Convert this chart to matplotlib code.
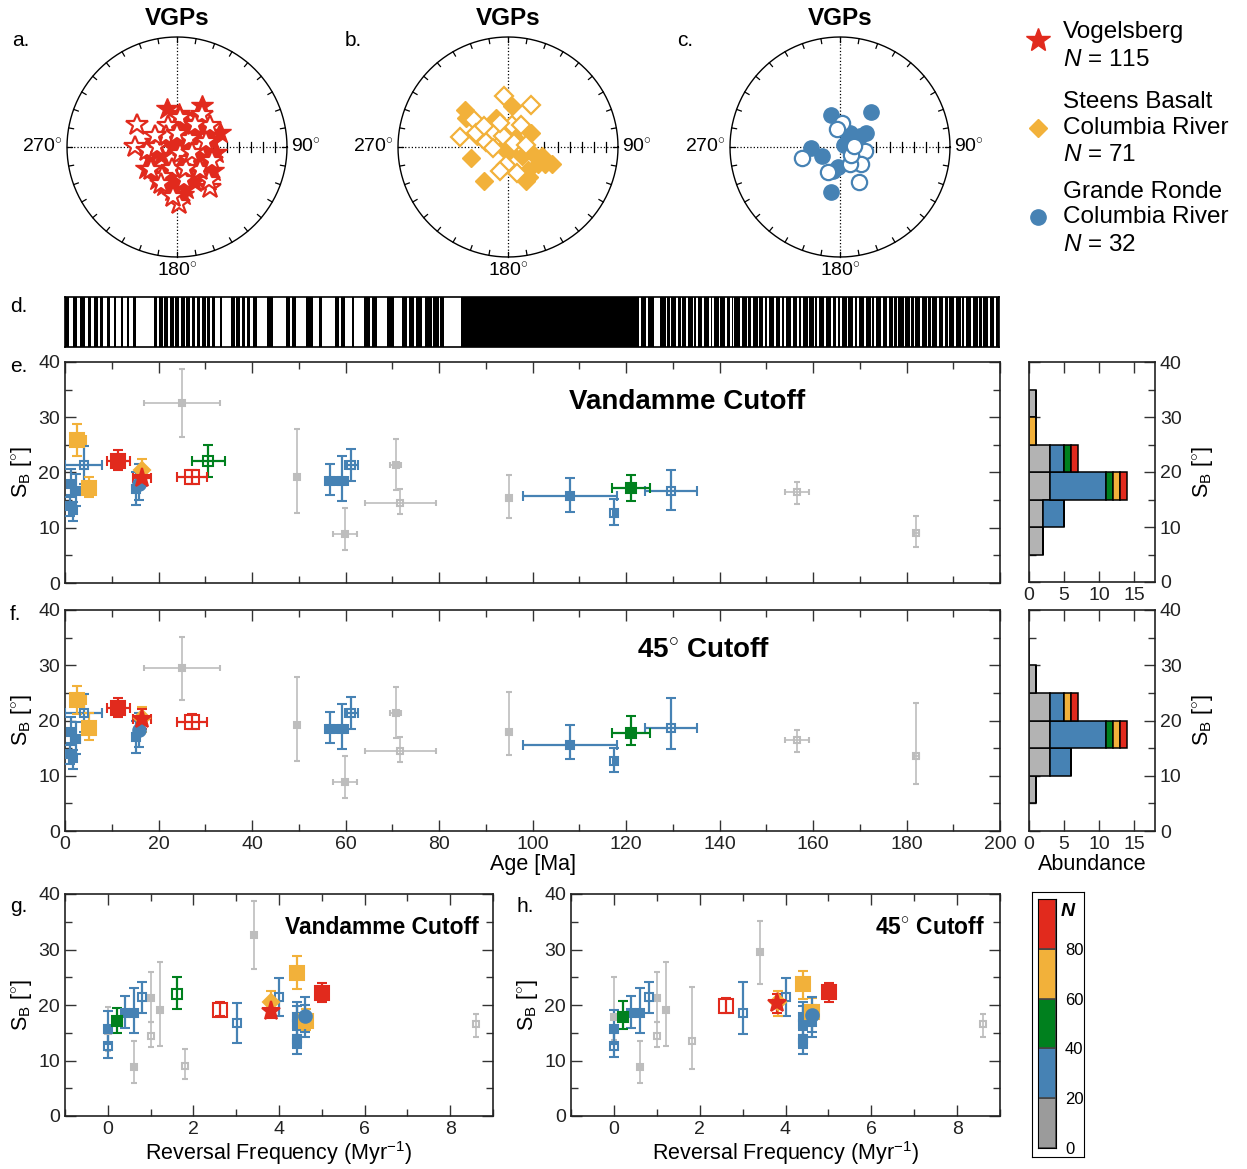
import matplotlib.pyplot as plt
import numpy as np

plt.rcParams['font.family'] = ['Liberation Sans', 'DejaVu Sans']
plt.rcParams['mathtext.fontset'] = 'custom'
plt.rcParams['mathtext.rm'] = 'Liberation Sans'
plt.rcParams['mathtext.it'] = 'Liberation Sans:italic'
plt.rcParams['mathtext.bf'] = 'Liberation Sans:bold'

W, H = 1247, 1169
RED = '#E12A1D'
ORANGE = '#F2B13A'
GREEN = '#00801E'
BLUE = '#4682B4'
GRAY = '#BDBDBD'
HGRAY = '#B3B3B3'
CGRAY = '#9B9B9B'
GROUP_COL = {'gray': GRAY, 'blue': BLUE, 'green': GREEN, 'orange': ORANGE, 'red': RED}

# ---------------- VGP stereonets (projected x, y on unit circle) ----------------
vog_fill_x = [-0.09, 0.23, 0.39, 0.32, 0.30, 0.33, 0.28, -0.02, 0.08, 0.15, 0.25, -0.12, -0.20, 0.0,
              0.10, 0.20, -0.25, -0.15, 0.05, 0.18, -0.28, -0.10, 0.10, 0.25, -0.18, 0.0, 0.15, -0.05,
              0.05, -0.02, 0.12, -0.05, 0.22, -0.22, 0.30, 0.35, -0.12, 0.08, 0.02, 0.18]
vog_fill_y = [0.35, 0.37, 0.13, 0.05, -0.10, -0.22, -0.30, 0.18, 0.22, 0.15, 0.18, 0.10, 0.05, 0.05,
              0.0, 0.05, -0.10, -0.08, -0.10, -0.12, -0.20, -0.20, -0.22, -0.18, -0.30, -0.32, -0.32, -0.40,
              -0.44, -0.28, 0.10, 0.0, -0.05, -0.02, 0.12, -0.05, -0.35, -0.38, 0.30, 0.28]
vog_open_x = [-0.36, -0.38, 0.02, 0.30, 0.03, 0.23, 0.30, -0.27, -0.18, -0.08, 0.11, 0.21, 0.03, -0.05,
              0.12, -0.14, -0.24, -0.15, 0.06, 0.29, 0.21, 0.32, -0.10, 0.16, 0.08, -0.20, 0.26, 0.0,
              -0.04, 0.14]
vog_open_y = [0.20, 0.0, -0.52, -0.37, 0.26, 0.29, 0.19, -0.04, 0.0, 0.19, 0.07, -0.01, -0.06, -0.20,
              -0.12, -0.27, -0.21, -0.34, -0.30, -0.31, -0.21, -0.13, 0.10, 0.20, -0.20, 0.10, 0.05, 0.12,
              -0.45, -0.05]

steens_fill_x = [-0.39, -0.38, -0.34, -0.22, 0.04, -0.11, -0.17, 0.21, 0.31, 0.40, 0.34, 0.16, 0.18,
                 0.13, 0.01, -0.05, 0.22, 0.27, 0.19, 0.07, -0.28]
steens_fill_y = [0.34, 0.26, -0.10, -0.31, 0.37, 0.26, 0.19, 0.13, -0.08, -0.15, -0.15, -0.31, -0.21,
                 -0.08, -0.04, -0.01, -0.05, -0.15, -0.27, 0.07, 0.10]
steens_open_x = [-0.04, 0.21, -0.44, -0.31, -0.29, -0.20, -0.13, -0.05, 0.04, 0.12, 0.05, 0.16, -0.14,
                 -0.02, -0.07, 0.08, -0.22, -0.07]
steens_open_y = [0.46, 0.38, 0.09, 0.25, 0.13, 0.05, 0.14, 0.10, 0.20, 0.20, 0.04, 0.02, -0.01,
                 -0.16, -0.22, -0.24, 0.19, 0.22]

gr_fill_x = [-0.08, 0.28, -0.26, -0.16, -0.08, -0.02, -0.06, 0.09, 0.06, 0.12, 0.18, 0.24, 0.16, 0.04, 0.13]
gr_fill_y = [0.29, 0.32, -0.01, -0.08, -0.41, -0.18, -0.22, 0.13, 0.05, 0.10, 0.10, 0.13, 0.07, 0.02, 0.05]
gr_open_x = [0.02, -0.03, -0.35, -0.11, 0.17, 0.12, 0.23, 0.19, 0.09, 0.10, 0.13]
gr_open_y = [0.22, 0.16, -0.10, -0.23, -0.32, -0.02, -0.04, -0.15, -0.15, -0.07, 0.01]

# ---------------- polarity timescale: reversed (white) intervals, Ma ----------------
rev_start = [0.8, 2.6, 4.2, 5.5, 7.0, 8.1, 9.7, 11.0, 12.5, 13.8, 15.3,
             19.8, 20.9, 22.0, 23.3, 24.4, 25.6, 26.7, 27.9, 29.0, 30.1, 31.1,
             32.1, 33.6, 36.3, 37.5, 38.6, 39.7, 41.1, 44.6, 48.2, 49.5, 53.0, 55.1, 58.6,
             59.9, 61.9, 65.3, 66.9, 70.4, 73.3, 74.8, 76.5, 78.5, 80.0, 81.1,
             123.0, 124.5, 126.1, 128.6, 129.5, 130.9, 131.8, 133.0, 134.4, 135.1, 136.5, 137.9,
             138.6, 140.0, 141.3, 142.4, 143.0, 144.6, 146.0, 146.9, 148.3, 149.5, 150.4, 151.8,
             153.2, 154.0, 155.5, 156.8, 157.6, 159.0, 160.3, 161.1, 162.6, 164.0, 165.2, 166.0,
             167.4, 168.8, 169.7, 171.1, 172.5, 173.3, 174.8, 176.0, 177.2, 178.1, 179.6, 180.9,
             181.7, 183.1, 184.5, 185.4, 186.8, 188.0, 189.0, 190.4, 191.8, 192.6, 194.0, 195.4,
             196.3, 197.7, 199.0]
rev_end = [1.8, 3.3, 4.9, 6.2, 7.6, 9.0, 10.4, 11.9, 13.2, 14.6, 19.1,
           20.2, 21.3, 22.5, 23.6, 24.9, 25.9, 27.2, 28.2, 29.4, 30.5, 31.4,
           33.2, 35.5, 36.7, 37.9, 39.0, 40.2, 43.2, 47.4, 48.6, 51.6, 54.4, 57.8, 59.1,
           61.5, 64.1, 65.8, 69.0, 72.2, 73.7, 75.2, 77.0, 78.8, 80.3, 84.7,
           123.3, 124.8, 127.5, 128.95, 129.85, 131.25, 132.15, 133.35, 134.75, 135.45, 136.85, 138.25,
           138.95, 140.35, 141.65, 142.75, 143.35, 144.95, 146.35, 147.25, 148.65, 149.85, 150.75, 152.15,
           153.55, 154.35, 155.85, 157.15, 157.95, 159.35, 160.65, 161.45, 162.95, 164.35, 165.55, 166.35,
           167.75, 169.15, 170.05, 171.45, 172.85, 173.65, 175.15, 176.35, 177.55, 178.45, 179.95, 181.25,
           182.05, 183.45, 184.85, 185.75, 187.15, 188.35, 189.35, 190.75, 192.15, 192.95, 194.35, 195.75,
           196.65, 198.05, 199.35]

# ---------------- compiled studies ----------------
study_group = ['orange', 'orange', 'red', 'red', 'green', 'green', 'gray', 'gray', 'gray', 'gray',
               'gray', 'gray', 'gray', 'gray', 'blue', 'blue', 'blue', 'blue', 'blue', 'blue', 'blue',
               'blue', 'blue', 'blue', 'blue', 'blue', 'blue', 'orange', 'red']
study_marker = ['s'] * 26 + ['o', 'D', '*']
study_filled = [1, 1, 1, 0, 0, 1, 1, 1, 1, 1, 0, 1, 0, 0, 1, 0, 0, 1, 1, 0, 0, 1, 1, 1, 1, 1, 1, 1, 1]
age = [2.6, 5.2, 11.4, 27.1, 30.6, 121.1, 25.0, 49.6, 59.8, 70.7, 71.6, 94.9, 156.6, 182.1, 108.0,
       117.5, 129.6, 56.6, 59.3, 61.2, 4.1, 1.2, 2.4, 1.1, 1.7, 15.2, 15.8, 16.5, 16.4]
age_em = [1.4, 1.2, 2.5, 3.2, 3.5, 4.1, 8.2, 0.3, 2.5, 1.2, 7.5, 0.6, 2.5, 0.5, 10.0, 0.3, 5.5, 1.0,
          1.3, 1.4, 4.0, 0.5, 0.8, 0.4, 0.6, 0.3, 0.4, 0.3, 1.8]
age_ep = [1.9, 1.2, 2.4, 3.3, 3.7, 4.1, 8.2, 0.3, 2.6, 1.2, 7.7, 0.6, 2.5, 0.5, 10.0, 0.3, 5.6, 1.0,
          1.3, 1.4, 3.9, 0.5, 0.9, 0.5, 0.6, 0.3, 0.4, 0.3, 1.9]
rev_freq = [4.41, 4.62, 5.01, 2.61, 1.61, 0.21, 3.41, 1.21, 0.61, 1.01, 1.01, 0.0, 8.61, 1.81, 0.0,
            0.0, 3.01, 0.41, 0.61, 0.81, 4.01, 4.41, 4.41, 4.41, 4.41, 4.61, 4.61, 3.82, 3.81]
sb_vd = [25.8, 17.2, 22.1, 19.1, 22.0, 17.2, 32.6, 19.1, 8.9, 21.3, 14.5, 15.3, 16.5, 9.0, 15.7, 12.7,
         16.7, 18.5, 18.5, 21.4, 21.4, 17.9, 16.6, 13.9, 13.2, 17.0, 18.0, 20.5, 19.0]
sb_vd_lo = [22.9, 15.5, 20.5, 18.0, 19.2, 14.9, 26.5, 12.7, 6.0, 16.9, 12.4, 11.8, 14.3, 6.6, 12.9,
            10.5, 13.2, 15.9, 14.9, 18.5, 18.0, 15.9, 13.9, 12.2, 11.2, 14.2, 15.1, 18.0, 17.6]
sb_vd_hi = [28.8, 19.2, 24.0, 20.5, 25.0, 19.5, 38.7, 27.8, 13.5, 26.0, 17.0, 19.6, 18.3, 12.1, 19.0,
            15.2, 20.4, 21.6, 23.0, 24.2, 24.8, 20.6, 19.8, 15.5, 14.6, 20.0, 21.5, 22.5, 20.6]
sb_45 = [23.7, 18.7, 22.3, 19.8, np.nan, 17.8, 29.5, 19.1, 8.9, 21.3, 14.5, 17.9, 16.5, 13.5, 15.6,
         12.6, 18.6, 18.5, 18.5, 21.4, 21.4, 17.9, 16.6, 13.9, 13.2, 17.0, 18.2, 20.5, 20.3]
sb_45_lo = [21.1, 16.5, 20.6, 18.5, np.nan, 15.6, 23.8, 12.7, 6.0, 16.9, 12.4, 13.7, 14.3, 8.5, 13.0,
            10.6, 14.8, 15.9, 14.9, 18.5, 18.0, 15.9, 13.9, 12.2, 11.2, 14.2, 15.2, 18.0, 18.5]
sb_45_hi = [26.2, 21.3, 24.0, 21.2, np.nan, 20.8, 35.1, 27.8, 13.5, 26.0, 17.0, 25.1, 18.3, 23.2, 19.1,
            15.1, 24.1, 21.6, 23.0, 24.2, 24.8, 20.6, 19.8, 15.5, 14.6, 20.0, 21.4, 22.5, 22.0]

# ---------------- histogram counts (bins of 5 deg starting at these edges) ----------------
hist_bins = [5, 10, 15, 20, 25, 30]
hist_vd = {'gray': [2, 2, 3, 3, 0, 1], 'blue': [0, 3, 8, 2, 0, 0], 'green': [0, 0, 1, 1, 0, 0],
           'orange': [0, 0, 1, 0, 1, 0], 'red': [0, 0, 1, 1, 0, 0]}
hist_45 = {'gray': [1, 3, 3, 3, 1, 0], 'blue': [0, 3, 8, 2, 0, 0], 'green': [0, 0, 1, 0, 0, 0],
           'orange': [0, 0, 1, 1, 0, 0], 'red': [0, 0, 1, 1, 0, 0]}

cbar_bounds = [0, 20, 40, 60, 80, 100]
cbar_colors = [CGRAY, BLUE, GREEN, ORANGE, RED]

fig = plt.figure(figsize=(W / 100, H / 100), dpi=100)


def px_axes(x0, y0, x1, y1):
    return fig.add_axes([x0 / W, 1 - y1 / H, (x1 - x0) / W, (y1 - y0) / H])


def ftext(x, y, s, **kw):
    fig.text(x / W, 1 - y / H, s, **kw)


def stereonet(x0, fill_x, fill_y, open_x, open_y, mk, ms, col):
    ax = px_axes(x0, 37, x0 + 220, 257)
    ax.set_xlim(-1, 1)
    ax.set_ylim(-1, 1)
    ax.set_aspect('equal')
    ax.axis('off')
    t = np.linspace(0, 2 * np.pi, 361)
    ax.plot(np.cos(t), np.sin(t), color='black', lw=1.0, clip_on=False)
    for a in np.deg2rad(np.arange(0, 360, 10)):
        ax.plot([np.cos(a), 0.955 * np.cos(a)], [np.sin(a), 0.955 * np.sin(a)],
                color='black', lw=0.9, clip_on=False)
    ax.plot([-1, 1], [0, 0], ':', color='black', lw=0.9)
    ax.plot([0, 0], [-1, 1], ':', color='black', lw=0.9)
    for r in [0.33, 0.45, 0.56, 0.67, 0.78, 0.89]:
        ax.plot([r, r], [-0.045, 0.045], color='black', lw=0.9)
    ax.plot(fill_x, fill_y, mk, ms=ms, color=col, mec=col, ls='none', clip_on=False)
    ax.plot(open_x, open_y, mk, ms=ms, mfc='white', mec=col, mew=1.6, ls='none', clip_on=False)
    ax.text(-1.04, 0, '270$^{\\circ}$', ha='right', va='center', fontsize=14)
    ax.text(1.04, 0, '90$^{\\circ}$', ha='left', va='center', fontsize=14)
    ax.text(0, -1.05, '180$^{\\circ}$', ha='center', va='top', fontsize=14)
    ax.text(0, 1.165, 'VGPs', ha='center', va='center', fontsize=17.5, fontweight='bold')


stereonet(67, vog_fill_x, vog_fill_y, vog_open_x, vog_open_y, '*', 16.5, RED)
stereonet(398, steens_fill_x, steens_fill_y, steens_open_x, steens_open_y, 'D', 9.5, ORANGE)
stereonet(730, gr_fill_x, gr_fill_y, gr_open_x, gr_open_y, 'o', 11, BLUE)
ftext(12, 40, 'a.', fontsize=15, va='center')
ftext(345, 40, 'b.', fontsize=15, va='center')
ftext(677, 40, 'c.', fontsize=15, va='center')

# legend block
leg = px_axes(1020, 20, 1055, 260)
leg.set_xlim(0, 1)
leg.set_ylim(260, 20)
leg.axis('off')
leg.plot([0.5], [40], '*', ms=18, color=RED)
leg.plot([0.5], [128], 'D', ms=9, color=ORANGE)
leg.plot([0.5], [217], 'o', ms=11, color=BLUE)
for y, s in [(32, 'Vogelsberg'), (60, '$N$ = 115'), (102, 'Steens Basalt'), (128, 'Columbia River'),
             (155, '$N$ = 71'), (192, 'Grande Ronde'), (217, 'Columbia River'), (245, '$N$ = 32')]:
    ftext(1063, y, s, fontsize=17.5, va='center')

# polarity bar
axd = px_axes(65, 297, 999, 347)
axd.set_xlim(0, 200)
axd.set_ylim(0, 1)
axd.set_facecolor('black')
axd.broken_barh([(s, e - s) for s, e in zip(rev_start, rev_end)], (0, 1), facecolors='white')
axd.set_xticks([])
axd.set_yticks([])
for sp in axd.spines.values():
    sp.set_linewidth(1.2)
ftext(10, 307, 'd.', fontsize=15, va='center')


def style(ax, labelsize=14):
    ax.tick_params(which='both', direction='in', top=True, right=True, color='#333333',
                   labelsize=labelsize, labelcolor='#222222')
    ax.tick_params(which='major', length=8, width=1)
    ax.tick_params(which='minor', length=5, width=1)
    for sp in ax.spines.values():
        sp.set_linewidth(1.2)
        sp.set_color('#222222')


def marker_size(i):
    g = study_group[i]
    if study_marker[i] == '*':
        return 14
    if study_marker[i] == 'o':
        return 9
    if study_marker[i] == 'D':
        return 8
    return {'gray': 4.5, 'blue': 5.5, 'green': 7, 'orange': 10, 'red': 9.5}[g]


rank = {'gray': 0, 'blue': 1, 'green': 2, 'orange': 3, 'red': 4}
order = sorted(range(len(age)), key=lambda i: rank[study_group[i]])
order = [i for i in order if study_marker[i] == 's'] + [27, 26, 28]


def draw_points(ax, xs, xem, xep, ys, ylo, yhi):
    for i in order:
        if np.isnan(ys[i]):
            continue
        g = study_group[i]
        col = GROUP_COL[g]
        thin = g == 'gray'
        xerr = None if xem is None else [[xem[i]], [xep[i]]]
        ax.errorbar(xs[i], ys[i], xerr=xerr, yerr=[[ys[i] - ylo[i]], [yhi[i] - ys[i]]],
                    fmt=study_marker[i], ms=marker_size(i), color=col, ecolor=col,
                    mfc=col if study_filled[i] else 'none', mec=col, mew=1.5,
                    elinewidth=1.2 if thin else 1.6, capsize=2.5 if thin else 3.5,
                    capthick=1.2 if thin else 1.6, zorder=3)


# panels e and f
for y0, y1, ys, lo, hi, lab, title, tx in [
        (362, 583, sb_vd, sb_vd_lo, sb_vd_hi, 'e.', 'Vandamme Cutoff', 687),
        (610, 831, sb_45, sb_45_lo, sb_45_hi, 'f.', '45$^{\\circ}$ Cutoff', 704)]:
    ax = px_axes(65, y0, 1000, y1)
    draw_points(ax, age, age_em, age_ep, ys, lo, hi)
    ax.set_xlim(0, 200)
    ax.set_ylim(0, 40)
    ax.set_xticks(np.arange(0, 201, 20))
    ax.set_xticks(np.arange(0, 201, 10), minor=True)
    ax.set_yticks(np.arange(0, 41, 10))
    ax.set_yticks(np.arange(0, 41, 5), minor=True)
    style(ax)
    ax.set_ylabel('S$_\\mathrm{B}$ [$^{\\circ}$]', fontsize=15.5, labelpad=3)
    ftext(tx, y0 + 40, title, fontsize=20, fontweight='bold', ha='center', va='center')
    ftext(10, y0 + 5, lab, fontsize=15, va='center')
    if lab == 'e.':
        ax.tick_params(labelbottom=False)
    else:
        ax.set_xlabel('Age [Ma]', fontsize=15.5, labelpad=1)

# histograms
for y0, y1, counts, last in [(362, 582, hist_vd, False), (610, 831, hist_45, True)]:
    ax = px_axes(1029, y0, 1155, y1)
    left = np.zeros(len(hist_bins))
    for g, c in [('gray', HGRAY), ('blue', BLUE), ('green', GREEN), ('orange', ORANGE), ('red', RED)]:
        ax.barh(hist_bins, counts[g], height=5, left=left, align='edge', color=c,
                edgecolor='black', lw=1.1, zorder=2)
        left = left + np.array(counts[g])
    ax.set_xlim(0, 18)
    ax.set_ylim(0, 40)
    ax.set_xticks([0, 5, 10, 15])
    ax.set_yticks(np.arange(0, 41, 10))
    ax.set_yticks(np.arange(0, 41, 5), minor=True)
    style(ax)
    ax.tick_params(labelleft=False, labelright=True)
    ax.yaxis.set_label_position('right')
    ax.set_ylabel('S$_\\mathrm{B}$ [$^{\\circ}$]', fontsize=15.5, labelpad=6)
    if last:
        ax.set_xlabel('Abundance', fontsize=15.5, labelpad=1)

# panels g and h
for x0, x1, ys, lo, hi, lab, title, tx in [
        (65, 493, sb_vd, sb_vd_lo, sb_vd_hi, 'g.', 'Vandamme Cutoff', 382),
        (571, 1000, sb_45, sb_45_lo, sb_45_hi, 'h.', '45$^{\\circ}$ Cutoff', 930)]:
    ax = px_axes(x0, 894, x1, 1116)
    draw_points(ax, rev_freq, None, None, ys, lo, hi)
    ax.set_xlim(-1, 9)
    ax.set_ylim(0, 40)
    ax.set_xticks(np.arange(0, 9, 2))
    ax.set_xticks(np.arange(-1, 10, 1), minor=True)
    ax.set_yticks(np.arange(0, 41, 10))
    ax.set_yticks(np.arange(0, 41, 5), minor=True)
    style(ax)
    ax.set_ylabel('S$_\\mathrm{B}$ [$^{\\circ}$]', fontsize=15.5, labelpad=3)
    ax.set_xlabel('Reversal Frequency (Myr$^{-1}$)', fontsize=15.5, labelpad=1)
    ftext(tx, 927, title, fontsize=16.5, fontweight='bold', ha='center', va='center')
    ftext(x0 - 55, 907, lab, fontsize=15, va='center')

# colour key for N
box = px_axes(1032, 892, 1084, 1157)
box.set_xticks([])
box.set_yticks([])
axc = px_axes(1038, 899, 1056, 1148)
axc.bar(0, np.diff(cbar_bounds), bottom=cbar_bounds[:-1], width=1, color=cbar_colors,
        edgecolor='#444444', lw=1.2)
axc.set_xlim(-0.5, 0.5)
axc.set_ylim(0, 100)
axc.set_xticks([])
axc.set_yticks(cbar_bounds[:-1])
axc.tick_params(left=False, right=False, labelleft=False, labelright=True, labelsize=12, pad=3)
axc.text(1.25, 95, 'N', transform=axc.get_yaxis_transform(),
         fontsize=14, fontweight='bold', fontstyle='italic', va='center')

fig.savefig('out.png', dpi=100)
